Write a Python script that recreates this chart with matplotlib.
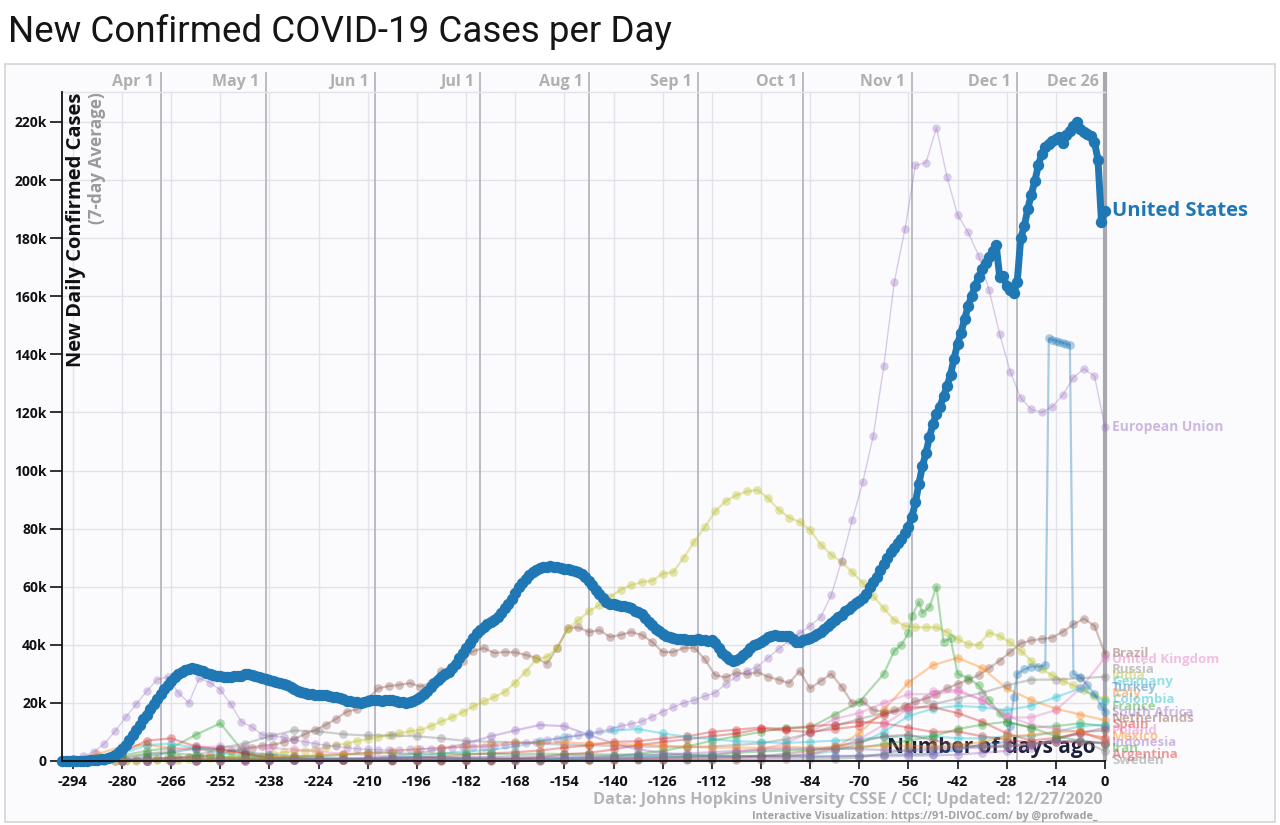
import numpy as np
import matplotlib
matplotlib.use("Agg")
import matplotlib.pyplot as plt
from matplotlib.patches import Rectangle

# ---------------- data (thousands of new cases per day, 7-day average) ----------------
# United States: daily values, last value = day 0 (Dec 26)
us = [0, 0, 0, 0.05, 0.05, 0.1, 0.1, 0.15, 0.2, 0.3,
      0.4, 0.6, 0.8, 1.1, 1.5, 2.1, 3.0, 4.2, 5.6, 7.2,
      9.0, 10.8, 12.5, 14.3, 16.0, 17.8, 19.5, 21.3, 23.2, 24.8,
      26.3, 27.7, 29.0, 30.0, 30.8, 31.4, 31.8, 32.0, 31.8, 31.4,
      30.9, 30.4, 30.0, 29.7, 29.4, 29.2, 29.0, 28.9, 29.0, 29.3,
      29.1, 29.4, 29.8, 30.1, 29.6, 29.2, 28.8, 28.4, 28.1, 27.8,
      27.5, 27.2, 27.0, 26.6, 26.0, 25.4, 24.8, 24.2, 23.8, 23.4,
      23.1, 22.9, 22.7, 22.6, 22.8, 22.7, 22.4, 22.2, 22.0, 21.6,
      21.2, 20.8, 20.5, 20.3, 20.2, 20.0, 20.4, 20.8, 20.9, 21.0,
      20.9, 20.8, 20.9, 21.1, 20.9, 20.6, 20.3, 20.2, 20.1, 20.3,
      20.7, 21.3, 22.0, 23.0, 24.2, 25.5, 26.8, 27.8, 28.8, 29.8,
      30.8, 32.0, 33.5, 35.5, 37.2, 38.9, 40.5, 42.2, 44.0, 45.2,
      46.2, 47.0, 47.8, 48.5, 49.5, 51.0, 52.5, 54.0, 55.8, 57.8,
      59.8, 61.3, 62.8, 64.0, 65.0, 65.8, 66.3, 66.7, 66.9, 67.0,
      66.8, 66.9, 66.6, 66.2, 66.1, 65.9, 65.4, 64.9, 64.4, 63.2,
      62.0, 60.5, 59.0, 57.5, 56.0, 54.7, 54.2, 54.0, 53.7, 53.4,
      53.2, 53.0, 52.5, 51.8, 51.2, 50.5, 49.3, 48.0, 46.8, 45.6,
      44.8, 43.8, 43.0, 42.6, 42.3, 42.0, 41.9, 42.0, 41.8, 41.6,
      41.7, 41.9, 41.8, 41.6, 41.4, 41.6, 40.6, 38.8, 37.2, 36.0,
      35.0, 34.4, 34.6, 35.4, 36.6, 37.6, 38.8, 39.8, 40.4, 41.0,
      41.6, 42.8, 43.2, 43.3, 43.1, 43.2, 43.0, 43.2, 42.0, 40.8,
      41.0, 41.6, 42.0, 42.5, 43.0, 43.6, 44.3, 45.4, 46.6, 47.6,
      48.5, 49.4, 50.4, 51.5, 52.4, 53.5, 54.4, 55.2, 56.0, 57.5,
      60.0, 61.5, 63.3, 65.6, 67.8, 70.0, 71.8, 73.2, 75.0, 76.5,
      78.6, 80.5, 84.0, 89.0, 95.5, 101.5, 106.0, 111.5, 116.0, 119.5,
      122.0, 125.5, 129.0, 133.0, 138.5, 143.5, 147.5, 152.0, 156.5, 160.0,
      163.5, 166.5, 169.5, 171.5, 173.5, 175.5, 177.6, 166.6, 167.0, 163.5,
      162.0, 161.0, 165.0, 180.0, 184.0, 190.0, 195.0, 199.5, 205.0, 209.0,
      211.5, 212.5, 213.5, 214.0, 214.8, 212.6, 215.5, 217.0, 218.5, 220.0,
      217.5, 216.5, 215.8, 215.0, 213.0, 207.0, 185.5, 189.5]

# every 3 days, last value = day 0
eu = [0.5, 0.8, 1.6, 3.2, 6.0, 10.2, 15.0, 19.5, 24.0, 28.0,
      29.0, 23.5, 20.0, 28.5, 27.0, 24.5, 19.5, 13.5, 11.7, 9.0,
      8.6, 8.2, 7.3, 6.6, 6.0, 5.4, 5.0, 4.6, 4.2, 4.0,
      3.9, 3.7, 3.8, 4.0, 4.2, 4.3, 4.5, 4.6, 4.7, 4.8,
      4.9, 5.1, 5.4, 5.8, 6.3, 6.7, 7.2, 7.7, 8.2, 8.8,
      9.5, 10.2, 11.0, 12.0, 12.8, 13.6, 15.2, 17.0, 18.5, 20.0,
      21.0, 22.3, 23.5, 26.5, 29.0, 31.0, 32.5, 35.5, 38.5, 41.5,
      44.0, 46.5, 49.5, 57.0, 69.0, 83.0, 96.0, 112.0, 136.0, 165.0,
      183.0, 205.0, 206.0, 218.0, 201.0, 188.0, 182.0, 174.0, 162.0, 147.0,
      134.0, 125.0, 121.0, 120.0, 122.0, 126.0, 132.0, 135.0, 132.5, 115.0]

india = [0, 0, 0.01, 0.02, 0.03, 0.05, 0.08, 0.1, 0.15, 0.25,
         0.4, 0.5, 0.7, 0.8, 0.9, 1.1, 1.3, 1.5, 1.6, 1.7,
         2.3, 3.0, 3.3, 3.6, 3.9, 4.7, 5.5, 6.0, 6.9, 7.5,
         8.2, 8.9, 9.5, 10.2, 10.7, 12.0, 13.6, 15.0, 16.8, 18.8,
         20.5, 22.0, 23.8, 27.0, 30.8, 35.0, 35.8, 39.0, 45.5, 48.5,
         51.5, 53.7, 56.5, 58.9, 60.5, 61.6, 62.0, 64.5, 65.0, 70.0,
         75.5, 80.5, 86.0, 89.5, 91.5, 92.8, 93.3, 90.5, 86.5, 83.8,
         82.3, 79.5, 74.5, 71.0, 68.5, 65.0, 61.3, 56.8, 52.5, 48.5,
         46.5, 46.0, 46.0, 46.0, 44.4, 42.0, 40.2, 40.0, 44.2, 43.0,
         40.8, 38.0, 34.5, 31.6, 29.5, 27.5, 26.0, 24.5, 22.5, 21.5]

brazil = [0, 0, 0, 0, 0, 0.1, 0.2, 0.3, 0.5, 0.8,
          1.0, 1.2, 1.3, 1.6, 2.0, 2.3, 3.5, 4.0, 4.6, 5.3,
          5.5, 6.5, 7.5, 9.2, 10.7, 12.4, 14.5, 17.0, 17.8, 21.5,
          25.0, 25.8, 26.2, 26.8, 25.6, 27.0, 31.0, 32.5, 34.5, 37.8,
          38.9, 37.2, 37.5, 37.4, 36.5, 35.5, 33.5, 39.0, 45.8, 46.0,
          44.4, 45.0, 42.7, 43.4, 44.4, 43.4, 41.0, 37.5, 37.5, 38.9,
          39.0, 35.0, 29.5, 28.8, 30.5, 29.8, 30.6, 29.0, 28.0, 26.8,
          31.0, 25.0, 27.5, 30.0, 25.5, 20.0, 20.5, 17.5, 17.0, 17.5,
          19.0, 20.5, 21.5, 23.0, 25.0, 26.5, 28.0, 29.5, 32.0, 34.5,
          37.5, 40.5, 41.5, 42.0, 42.5, 44.5, 47.0, 49.0, 46.5, 37.0]

# weekly values, last value = day 0
italy = [0.6, 2.4, 5.0, 5.6, 4.5, 4.0, 3.4, 2.6, 1.7, 1.1,
         0.8, 0.6, 0.45, 0.3, 0.3, 0.25, 0.2, 0.2, 0.2, 0.23,
         0.28, 0.3, 0.4, 0.55, 0.9, 1.3, 1.5, 1.5, 1.6, 1.7,
         2.3, 4.5, 9.5, 17.5, 27.0, 33.0, 35.5, 32.0, 25.0, 21.0,
         18.0, 16.0, 14.0]
uk = [0.03, 0.2, 0.8, 2.3, 3.8, 4.8, 5.0, 4.6, 4.5, 4.0,
      3.2, 2.5, 2.0, 1.5, 1.2, 1.0, 0.9, 0.65, 0.6, 0.65,
      0.7, 0.8, 0.85, 1.0, 1.1, 1.3, 2.0, 3.2, 4.0, 6.0,
      10.0, 14.5, 16.5, 20.0, 23.0, 23.0, 24.0, 21.0, 15.0, 15.0,
      17.5, 25.0, 35.5]
russia = [0.0, 0.01, 0.05, 0.2, 0.7, 1.8, 4.5, 6.0, 8.5, 10.5,
          10.2, 9.2, 8.8, 8.8, 8.5, 7.8, 6.9, 6.6, 6.5, 6.0,
          5.6, 5.4, 5.2, 5.0, 4.9, 4.8, 5.0, 5.5, 6.1, 7.5,
          9.5, 12.0, 14.5, 16.5, 17.5, 19.5, 21.5, 23.5, 26.0, 28.0,
          28.0, 28.5, 29.0]
germany = [0.05, 0.5, 2.5, 5.5, 6.0, 4.5, 2.8, 1.7, 1.0, 0.8,
           0.6, 0.5, 0.4, 0.35, 0.3, 0.55, 0.5, 0.4, 0.4, 0.5,
           0.7, 0.8, 1.0, 1.3, 1.4, 1.3, 1.3, 1.5, 1.8, 1.9,
           2.2, 3.5, 6.0, 10.0, 15.5, 18.0, 19.0, 18.5, 17.5, 19.0,
           22.0, 25.0, 20.5]
spain = [0.05, 0.7, 2.8, 7.0, 7.8, 5.0, 4.0, 2.5, 1.0, 0.8,
         0.5, 0.4, 0.3, 0.3, 0.35, 0.3, 0.4, 0.5, 0.7, 1.3,
         2.3, 2.8, 4.0, 5.5, 6.5, 7.5, 8.5, 9.5, 11.0, 10.5,
         10.0, 11.0, 12.0, 16.0, 18.5, 18.5, 16.5, 13.5, 9.5, 7.0,
         8.0, 9.5, 8.0]
argentina = [0, 0, 0.02, 0.05, 0.1, 0.1, 0.12, 0.12, 0.15, 0.2,
             0.3, 0.4, 0.6, 0.8, 1.1, 1.6, 2.2, 2.6, 3.0, 3.6,
             4.6, 5.4, 6.6, 6.8, 7.8, 8.5, 10.0, 10.8, 11.5, 11.0,
             12.0, 12.5, 13.5, 13.0, 11.5, 10.0, 10.2, 8.5, 7.3, 6.3,
             6.7, 6.6, 6.0]
colombia = [0, 0, 0.02, 0.08, 0.1, 0.1, 0.15, 0.2, 0.3, 0.4,
            0.5, 0.6, 0.8, 1.2, 1.6, 2.5, 3.3, 3.8, 5.0, 6.8,
            8.2, 9.2, 10.5, 11.0, 9.5, 8.3, 7.5, 6.8, 6.5, 6.2,
            6.6, 7.0, 7.5, 8.2, 8.5, 8.5, 7.8, 7.8, 8.5, 8.5,
            10.0, 12.0, 12.5]
poland = [0, 0.01, 0.03, 0.15, 0.35, 0.35, 0.35, 0.3, 0.3, 0.3,
          0.35, 0.35, 0.3, 0.35, 0.4, 0.3, 0.3, 0.3, 0.3, 0.35,
          0.45, 0.6, 0.7, 0.75, 0.65, 0.6, 0.55, 0.6, 0.8, 1.3,
          2.5, 4.2, 7.5, 12.5, 18.0, 24.0, 24.5, 21.0, 15.5, 12.5,
          11.0, 10.0, 7.0]
south_africa = [0, 0, 0.02, 0.1, 0.08, 0.07, 0.1, 0.15, 0.3, 0.4,
                0.6, 0.7, 1.0, 1.6, 2.6, 4.2, 6.0, 8.5, 10.5, 12.4,
                12.0, 9.0, 6.0, 4.0, 2.8, 2.2, 1.7, 1.7, 1.5, 1.5,
                1.5, 1.7, 1.8, 1.6, 1.8, 1.9, 2.2, 2.8, 3.5, 4.5,
                7.5, 9.5, 11.5]
netherlands = [0.01, 0.05, 0.4, 0.9, 1.1, 1.1, 1.0, 0.8, 0.45, 0.3,
               0.2, 0.18, 0.15, 0.15, 0.12, 0.1, 0.1, 0.05, 0.1, 0.15,
               0.25, 0.35, 0.55, 0.6, 0.5, 0.55, 0.75, 1.1, 1.6, 2.5,
               3.5, 5.0, 6.5, 8.5, 9.0, 7.2, 5.5, 5.0, 5.0, 5.5,
               7.5, 10.0, 10.5]
iran = [0.6, 1.0, 1.2, 2.5, 2.8, 1.9, 1.4, 1.1, 1.0, 1.4,
        1.8, 2.1, 2.8, 2.7, 2.4, 2.6, 2.5, 2.5, 2.3, 2.5,
        2.4, 2.3, 2.2, 2.2, 2.1, 2.0, 2.1, 2.8, 3.3, 3.6,
        3.9, 4.2, 4.6, 5.8, 7.0, 8.5, 11.0, 12.5, 13.5, 11.5,
        8.5, 7.0, 6.0]
mexico = [0, 0, 0.02, 0.1, 0.2, 0.35, 0.5, 0.8, 1.2, 1.6,
          2.0, 2.4, 2.8, 3.3, 4.0, 4.6, 5.0, 5.5, 6.3, 6.3,
          6.4, 6.0, 6.0, 5.6, 5.3, 4.9, 4.6, 4.6, 4.5, 4.8,
          4.6, 4.7, 4.9, 5.3, 5.2, 5.0, 5.5, 6.5, 8.5, 9.0,
          10.0, 10.3, 7.0]
indonesia = [0, 0, 0.01, 0.1, 0.15, 0.3, 0.3, 0.3, 0.35, 0.4,
             0.5, 0.6, 0.65, 0.8, 1.0, 1.1, 1.2, 1.4, 1.6, 1.6,
             1.6, 1.8, 1.8, 2.0, 2.2, 2.6, 3.0, 3.5, 3.9, 4.2,
             4.3, 4.2, 4.1, 3.8, 3.4, 3.8, 4.4, 4.6, 5.0, 5.8,
             6.5, 6.8, 6.3]
sweden = [0.02, 0.1, 0.12, 0.3, 0.4, 0.5, 0.6, 0.65, 0.6, 0.6,
          0.6, 0.55, 0.6, 0.9, 1.1, 1.0, 0.9, 0.6, 0.4, 0.3,
          0.25, 0.25, 0.3, 0.3, 0.25, 0.2, 0.2, 0.25, 0.45, 0.6,
          0.7, 0.8, 1.2, 2.5, 4.0, 4.5, 4.8, 5.0, 5.5, 6.0,
          6.8, 7.0, 3.5]

# irregularly sampled series (days ago, value)
france_days = [-294, -287, -280, -273, -266, -259, -252, -245, -238, -231,
               -224, -217, -210, -203, -196, -189, -182, -175, -168, -161,
               -154, -147, -140, -133, -126, -119, -112, -105, -98, -91,
               -84, -77, -70, -63, -60, -58, -56, -55, -53, -52,
               -50, -48, -46, -44, -42, -39, -36, -33, -30, -28,
               -21, -14, -7, 0]
france = [0.1, 0.6, 1.8, 3.5, 4.5, 9.0, 13.0, 2.5, 1.2, 0.9,
          0.6, 0.4, 0.35, 0.4, 0.4, 0.5, 0.55, 0.6, 0.65, 0.75,
          1.0, 1.3, 1.6, 2.5, 3.5, 5.0, 7.0, 8.5, 10.0, 11.5,
          11.5, 16.0, 20.3, 30.0, 38.0, 40.0, 44.0, 50.0, 54.7, 51.0,
          53.0, 60.0, 41.0, 42.3, 30.0, 28.6, 26.0, 21.0, 16.5, 13.5,
          11.5, 12.0, 13.0, 12.0]
turkey_days = [-294, -287, -280, -273, -266, -259, -252, -245, -238, -231,
               -224, -217, -210, -203, -196, -189, -182, -175, -168, -161,
               -154, -147, -140, -133, -126, -119, -112, -105, -98, -91,
               -84, -77, -70, -63, -56, -49, -42, -35, -28, -27,
               -26, -25, -23, -21, -19, -17, -16, -15, -14, -13,
               -12, -11, -10, -9, -7, -5, -3, -1, 0]
turkey = [0.0, 0.0, 0.2, 1.5, 3.0, 4.3, 4.2, 3.0, 2.2, 1.7,
          1.3, 1.0, 0.9, 1.0, 1.4, 1.2, 1.1, 1.1, 1.0, 0.95,
          0.95, 1.0, 1.2, 1.3, 1.4, 1.5, 1.6, 1.7, 1.7, 1.6,
          1.5, 1.5, 1.8, 2.2, 2.3, 2.5, 3.8, 5.8, 6.5, 12.0,
          22.0, 30.0, 31.5, 32.5, 32.5, 33.0, 145.5, 145.0, 144.7, 144.3,
          144.0, 143.6, 143.2, 30.0, 29.0, 26.0, 23.0, 19.0, 17.0]

x_ticks = list(range(-294, 1, 14))
y_ticks = list(range(0, 221, 20))
month_names = ["Apr 1", "May 1", "Jun 1", "Jul 1", "Aug 1", "Sep 1",
               "Oct 1", "Nov 1", "Dec 1", "Dec 26"]
month_days = [-269, -239, -208, -178, -147, -116, -86, -55, -25, 0]

# ---------------- figure ----------------
FONT = ["Open Sans", "DejaVu Sans"]
plt.rcParams["font.family"] = FONT

W, H = 1280, 825
fig = plt.figure(figsize=(W / 100, H / 100), dpi=100)
fig.patch.set_facecolor("white")
frame = Rectangle((5 / W, 1 - 822 / H), (1275 - 5) / W, (822 - 64) / H,
                  transform=fig.transFigure, facecolor="#fbfbfd",
                  edgecolor="#d4d4d4", lw=1.2, zorder=-10)
fig.add_artist(frame)

L, R, T, B = 62, 1105, 92, 761
ax = fig.add_axes([L / W, 1 - B / H, (R - L) / W, (B - T) / H])
ax.set_zorder(5)
ax.patch.set_alpha(0)
PXK = 2.905  # pixels per thousand
YMAX = (B - T) / PXK
ax.set_xlim(-297.1, 0)
ax.set_ylim(0, YMAX)

ax.spines["right"].set_visible(False)
ax.spines["top"].set_color("#e2e2ea")
ax.spines["top"].set_linewidth(1)
for s in ["left", "bottom"]:
    ax.spines[s].set_color("#111111")
    ax.spines[s].set_linewidth(1.3)
    ax.spines[s].set_zorder(12)

# grid
GRID = "#e2e2ea"
for yv in y_ticks[1:]:
    ax.axhline(yv, color=GRID, lw=1, zorder=0.5)
for xv in x_ticks:
    ax.axvline(xv, color=GRID, lw=1, zorder=0.5)

# month lines + labels
for d, name in zip(month_days, month_names):
    last = d == 0
    ax.plot([d, d], [0, YMAX + 20 / PXK], color="#a8a8ae" if last else "#b6b6be",
            lw=3 if last else 1.3, clip_on=False, zorder=1, solid_capstyle="butt")
    ax.text(d - 1.8, YMAX + 10 / PXK, name, ha="right", va="center",
            color="#b0b0b0", fontsize=11.5, fontweight="bold", clip_on=False)

# ticks
ax.set_yticks(y_ticks)
ax.set_yticklabels(["0"] + [f"{v}k" for v in y_ticks[1:]])
ax.set_xticks(x_ticks)
ax.set_xticklabels([str(v) for v in x_ticks])
ax.tick_params(axis="y", length=9, width=1.2, pad=2, labelsize=10, colors="#111111")
ax.tick_params(axis="x", length=6, width=1.2, pad=4, labelsize=10.5, colors="#111111")
for lbl in ax.get_xticklabels() + ax.get_yticklabels():
    lbl.set_fontweight("bold")

# x-axis title inside plot, under the data
ax.text(-2.8, 13 / PXK, "Number of days ago", ha="right", va="center",
        fontsize=15, fontweight="bold", color="#1c1f3a", zorder=1.5)


def weekly(vals):
    return np.arange(-(len(vals) - 1) * 7, 1, 7)


def every3(vals):
    return np.arange(-(len(vals) - 1) * 3, 1, 3)


minor = [
    ("Brazil", every3(brazil), brazil, "#8c564b"),
    ("India", every3(india), india, "#bcbd22"),
    ("Italy", weekly(italy), italy, "#ff7f0e"),
    ("France", np.array(france_days), france, "#2ca02c"),
    ("United Kingdom", weekly(uk), uk, "#e377c2"),
    ("Russia", weekly(russia), russia, "#7f7f7f"),
    ("Germany", weekly(germany), germany, "#17becf"),
    ("Turkey", np.array(turkey_days), turkey, "#1f77b4"),
    ("Spain", weekly(spain), spain, "#d62728"),
    ("Argentina", weekly(argentina), argentina, "#d62728"),
    ("Colombia", weekly(colombia), colombia, "#17becf"),
    ("Poland", weekly(poland), poland, "#e377c2"),
    ("South Africa", weekly(south_africa), south_africa, "#9467bd"),
    ("Netherlands", weekly(netherlands), netherlands, "#8c564b"),
    ("Iran", weekly(iran), iran, "#2ca02c"),
    ("Mexico", weekly(mexico), mexico, "#ff7f0e"),
    ("Indonesia", weekly(indonesia), indonesia, "#9467bd"),
    ("Sweden", weekly(sweden), sweden, "#7f7f7f"),
]

for name, days, vals, col in minor:
    n = min(len(days), len(vals))
    ax.plot(days[:n], vals[:n], color=col, lw=1.6, alpha=0.36, marker="o", ms=6.3,
            mew=0, clip_on=False, zorder=3)

# European Union
ax.plot(every3(eu), eu, color="#9467bd", lw=1.0, alpha=0.33, marker="o", ms=6,
        mew=0, clip_on=False, zorder=4)

# United States
ax.plot(np.arange(-(len(us) - 1), 1), us, color="#1f77b4", lw=5.0, marker="o",
        ms=8.2, mew=0, clip_on=False, zorder=10, solid_joinstyle="round")

# end labels
LX = 2.0
ax.text(LX, us[-1], "United States", color="#1f77b4", fontsize=14.5, fontweight="bold",
        va="center", ha="left", clip_on=False)
ax.text(LX, eu[-1], "European Union", color="#9467bd", alpha=0.45, fontsize=10,
        fontweight="bold", va="center", ha="left", clip_on=False)

ends = sorted([(vals[-1], name, col) for name, days, vals, col in minor], reverse=True)
gap = 2.1
ys = []
for v, name, col in ends:
    ys.append(v if not ys else min(v, ys[-1] - gap))
# push back up from the floor
floor = 0.0
for i in range(len(ys) - 1, -1, -1):
    lim = floor if i == len(ys) - 1 else ys[i + 1] + gap
    ys[i] = max(ys[i], lim)
for (v, name, col), y in zip(ends, ys):
    ax.text(LX, y, name, color=col, alpha=0.45, fontsize=9.5, fontweight="bold",
            va="center", ha="left", clip_on=False)

# axis titles
fig.text(76 / W, 1 - 93 / H, "New Daily Confirmed Cases", rotation=90, ha="center",
         va="top", fontsize=14.5, fontweight="bold", color="#111111", zorder=20)
fig.text(97 / W, 1 - 92 / H, "(7-day Average)", rotation=90, ha="center",
         va="top", fontsize=12.3, fontweight="bold", color="#9a9a9a", zorder=20)

# title and footers
fig.text(8 / W, 1 - 32 / H, "New Confirmed COVID-19 Cases per Day", ha="left",
         va="center", fontsize=26.5, family=["Roboto", "DejaVu Sans"], color="#151515")
fig.text(1103 / W, 1 - 800 / H,
         "Data: Johns Hopkins University CSSE / CCI; Updated: 12/27/2020",
         ha="right", va="center", fontsize=11.7, fontweight="bold", color="#b5b5b5")
fig.text(1097 / W, 1 - 816 / H,
         "Interactive Visualization: https://91-DIVOC.com/ by @profwade_",
         ha="right", va="center", fontsize=7.8, fontweight="bold", color="#a0a0a0")

fig.savefig("out.png", dpi=100)
